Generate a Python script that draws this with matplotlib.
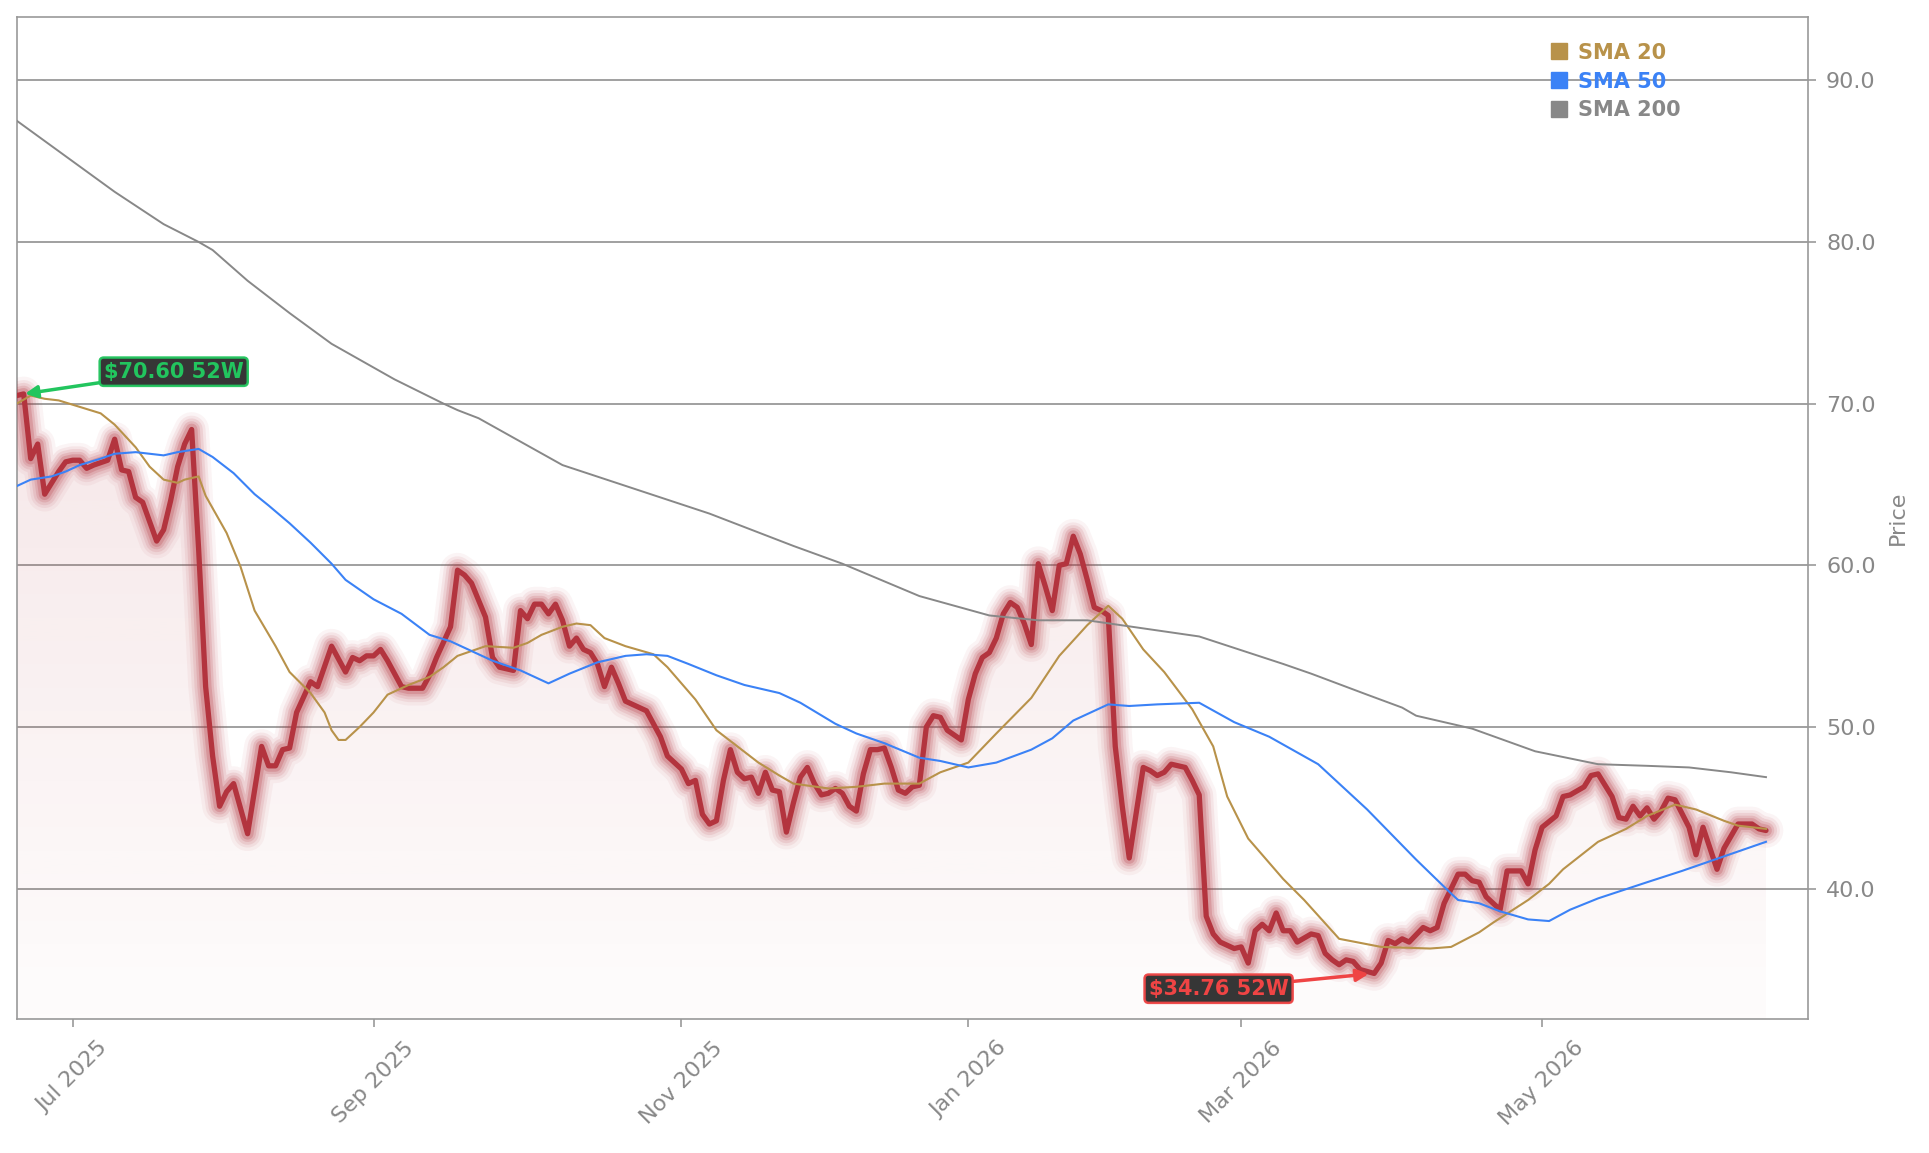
import numpy as np
import pandas as pd
import matplotlib
matplotlib.use('Agg')
import matplotlib.pyplot as plt
from matplotlib.lines import Line2D
from matplotlib.patches import Polygon
from matplotlib.colors import to_rgb
from matplotlib.ticker import MultipleLocator, FormatStrFormatter

# trading calendar (x axis is the trading-day index)
start_date = '2025-06-18'
end_date = '2026-06-17'
holidays = ['2025-06-19', '2025-07-04', '2025-09-01', '2025-11-27', '2025-12-25',
            '2026-01-01', '2026-01-19', '2026-02-16', '2026-04-03', '2026-05-25']
tick_months = [(2025, 7), (2025, 9), (2025, 11), (2026, 1), (2026, 3), (2026, 5)]

# close price (trading-day index, value)
price_day = [0, 1, 2, 3, 4, 5, 6, 7, 8, 9, 10, 11, 13, 14, 15, 16, 17, 18, 20, 21,
             22, 23, 24, 25, 26, 27, 28, 29, 30, 31, 33, 35, 36, 37, 38, 39, 40, 42, 43, 45,
             47, 48, 49, 50, 51, 52, 53, 55, 56, 58, 59, 60, 62, 63, 64, 65, 67, 68, 69, 71,
             72, 73, 74, 75, 76, 77, 78, 79, 80, 81, 82, 83, 84, 85, 86, 87, 89, 90, 91, 92,
             93, 95, 96, 97, 98, 99, 100, 101, 102, 103, 104, 105, 106, 107, 108, 109, 110, 111, 112, 113,
             114, 115, 116, 117, 118, 119, 120, 121, 122, 123, 124, 125, 126, 127, 128, 129, 130, 131, 132, 133,
             134, 135, 136, 137, 138, 139, 140, 141, 142, 143, 144, 145, 146, 147, 148, 149, 150, 151, 152, 153,
             154, 155, 156, 157, 158, 159, 161, 162, 163, 164, 165, 167, 168, 169, 170, 171, 172, 174, 175, 176,
             177, 178, 179, 180, 181, 182, 183, 185, 186, 187, 188, 189, 190, 191, 192, 194, 195, 196, 197, 198,
             199, 201, 202, 203, 204, 206, 207, 208, 209, 210, 212, 213, 215, 216, 217, 218, 220, 221, 222, 224,
             225, 226, 228, 229, 230, 231, 232, 233, 234, 235, 236, 237, 239, 240, 241, 243, 244, 246, 248, 249,
             250]
price_val = [70.5, 70.6, 66.6, 67.5, 64.4, 65.1, 65.8, 66.4, 66.5, 66.5, 66.0, 66.2, 66.5, 67.8, 65.9, 65.8, 64.2, 63.9, 61.5, 62.2,
             64.0, 66.1, 67.5, 68.4, 61.0, 52.5, 48.2, 45.1, 46.0, 46.5, 43.4, 48.8, 47.6, 47.6, 48.6, 48.7, 50.9, 52.8, 52.5, 55.0,
             53.4, 54.3, 54.1, 54.4, 54.4, 54.8, 54.1, 52.5, 52.4, 52.4, 53.2, 54.3, 56.2, 59.7, 59.4, 58.9, 56.8, 54.3, 53.7, 53.5,
             57.2, 56.7, 57.6, 57.6, 57.0, 57.6, 56.6, 55.0, 55.5, 54.8, 54.6, 53.9, 52.5, 53.7, 52.7, 51.6, 51.2, 51.0, 50.2, 49.4,
             48.2, 47.4, 46.5, 46.7, 44.6, 44.0, 44.2, 46.7, 48.6, 47.2, 46.8, 46.9, 45.9, 47.2, 46.1, 46.0, 43.5, 45.3, 46.9, 47.5,
             46.5, 45.8, 45.9, 46.2, 45.9, 45.1, 44.8, 47.1, 48.6, 48.6, 48.7, 47.5, 46.1, 45.9, 46.3, 46.4, 50.0, 50.7, 50.6, 49.8,
             49.5, 49.2, 51.7, 53.3, 54.3, 54.6, 55.5, 57.0, 57.7, 57.4, 56.4, 55.1, 60.1, 58.7, 57.2, 60.0, 60.1, 61.8, 60.7, 59.1,
             57.4, 57.2, 56.9, 48.8, 45.1, 41.9, 47.5, 47.3, 47.0, 47.2, 47.7, 47.5, 46.7, 45.8, 38.3, 37.2, 36.7, 36.3, 36.4, 35.4,
             37.4, 37.8, 37.4, 38.5, 37.4, 37.4, 36.7, 37.2, 37.1, 36.0, 35.6, 35.3, 35.6, 35.5, 35.0, 34.76, 35.4, 36.8, 36.6, 36.9,
             36.7, 37.6, 37.4, 37.6, 39.1, 40.9, 40.9, 40.5, 40.4, 39.5, 38.7, 41.1, 41.1, 40.3, 42.4, 43.8, 44.5, 45.7, 45.8, 46.3,
             47.0, 47.1, 45.7, 44.4, 44.3, 45.1, 44.5, 45.0, 44.3, 44.8, 45.6, 45.5, 43.8, 42.1, 43.8, 41.2, 42.5, 44.0, 44.0, 43.7,
             43.6]

sma20_day = [0, 2, 4, 6, 9, 12, 14, 17, 19, 21, 23, 24, 26, 27, 30, 32, 34, 37, 39, 42,
             44, 45, 46, 47, 49, 51, 53, 56, 59, 61, 63, 67, 71, 73, 75, 78, 80, 82, 84, 87,
             91, 93, 97, 100, 103, 106, 109, 111, 116, 120, 124, 129, 132, 136, 140, 145, 149, 153, 156, 158,
             161, 164, 168, 171, 173, 176, 178, 181, 184, 189, 195, 202, 205, 209, 211, 216, 219, 221, 226, 230,
             233, 237, 240, 244, 246, 250]
sma20_val = [70.0, 70.5, 70.3, 70.2, 69.8, 69.4, 68.7, 67.3, 66.1, 65.3, 65.1, 65.3, 65.5, 64.3, 62.0, 59.9, 57.2, 55.0, 53.4, 52.1,
             50.9, 49.8, 49.2, 49.2, 50.0, 50.9, 52.0, 52.6, 53.1, 53.7, 54.4, 55.0, 54.9, 55.2, 55.7, 56.2, 56.4, 56.3, 55.5, 55.0,
             54.5, 53.7, 51.7, 49.8, 48.8, 47.8, 47.0, 46.5, 46.2, 46.3, 46.5, 46.5, 47.2, 47.8, 49.6, 51.8, 54.4, 56.3, 57.5, 56.7,
             54.8, 53.4, 51.1, 48.8, 45.7, 43.1, 42.1, 40.6, 39.3, 36.9, 36.4, 36.3, 36.4, 37.3, 37.9, 39.3, 40.3, 41.2, 42.9, 43.7,
             44.5, 45.2, 44.9, 44.2, 43.9, 43.7]

sma50_day = [0, 2, 5, 7, 9, 12, 14, 17, 19, 21, 23, 26, 28, 31, 34, 36, 39, 42, 45, 47,
             51, 55, 59, 62, 66, 68, 72, 76, 79, 83, 87, 90, 93, 96, 100, 104, 109, 112, 117, 120,
             124, 129, 132, 136, 140, 145, 148, 151, 156, 159, 163, 169, 174, 179, 186, 193, 200, 205, 206, 209,
             212, 216, 219, 222, 226, 233, 238, 244, 250]
sma50_val = [64.9, 65.3, 65.5, 65.8, 66.2, 66.6, 66.9, 67.0, 66.9, 66.8, 67.0, 67.2, 66.7, 65.7, 64.4, 63.7, 62.6, 61.4, 60.1, 59.1,
             57.9, 57.0, 55.7, 55.3, 54.5, 54.1, 53.5, 52.7, 53.3, 54.0, 54.4, 54.5, 54.4, 53.9, 53.2, 52.6, 52.1, 51.5, 50.2, 49.6,
             49.0, 48.1, 47.9, 47.5, 47.8, 48.6, 49.3, 50.4, 51.4, 51.3, 51.4, 51.5, 50.3, 49.4, 47.7, 44.9, 41.8, 39.7, 39.3, 39.1,
             38.6, 38.1, 38.0, 38.7, 39.4, 40.4, 41.1, 42.0, 42.9]

sma200_day = [0, 7, 14, 21, 26, 28, 33, 39, 45, 54, 61, 63, 66, 78, 99, 111, 118, 129, 139, 146,
              153, 169, 181, 185, 193, 198, 200, 208, 217, 226, 233, 239, 245, 250]
sma200_val = [87.5, 85.3, 83.1, 81.1, 80.0, 79.5, 77.6, 75.6, 73.7, 71.5, 70.0, 69.6, 69.1, 66.2, 63.2, 61.2, 60.1, 58.1, 56.9, 56.6,
              56.6, 55.6, 53.9, 53.3, 52.0, 51.2, 50.7, 49.9, 48.5, 47.7, 47.6, 47.5, 47.2, 46.9]

series_names = ['SMA 20', 'SMA 50', 'SMA 200']

price_color = '#b3343e'
sma_colors = ['#b8924a', '#3b82f6', '#888888']
grey_text = '#888888'
grey_line = '#999999'

dates = pd.bdate_range(start_date, end_date)
dates = dates[~dates.isin(pd.to_datetime(holidays))]
tick_idx = [int(np.argmax((dates.year == y) & (dates.month == m))) for y, m in tick_months]
tick_lbl = [dates[i].strftime('%b %Y') for i in tick_idx]

fig = plt.figure(figsize=(19.29, 11.53), dpi=100)
ax = fig.add_axes([0.00866, 0.1162, 0.9286, 0.8693])

ybot, ytop = 31.94, 93.93

# gradient area under the price line
verts = [(price_day[0], ybot)] + list(zip(price_day, price_val)) + [(price_day[-1], ybot)]
poly = Polygon(verts, closed=True, facecolor='none', edgecolor='none')
ax.add_patch(poly)
rgba = np.zeros((256, 1, 4))
rgba[..., :3] = to_rgb(price_color)
rgba[..., 3] = np.linspace(0.12, 0.015, 256)[:, None]
im = ax.imshow(rgba, extent=(price_day[0], price_day[-1], ybot, max(price_val)),
               aspect='auto', origin='upper', zorder=1, interpolation='bilinear')
im.set_clip_path(poly)

# glow + price line
for lw, a in [(25, 0.05), (20, 0.08), (16, 0.11), (12, 0.15), (8.5, 0.22)]:
    ax.plot(price_day, price_val, color=price_color, lw=lw, alpha=a,
            solid_joinstyle='round', solid_capstyle='round', zorder=3)
ax.plot(price_day, price_val, color=price_color, lw=3.8,
        solid_joinstyle='round', solid_capstyle='round', zorder=4)

ax.plot(sma20_day, sma20_val, color=sma_colors[0], lw=1.5, zorder=5)
ax.plot(sma50_day, sma50_val, color=sma_colors[1], lw=1.5, zorder=5)
ax.plot(sma200_day, sma200_val, color=sma_colors[2], lw=1.4, zorder=5)

ax.set_xlim(0, 256)
ax.set_ylim(ybot, ytop)

# 52 week high / low labels
i_hi = int(np.argmax(price_val))
i_lo = int(np.argmin(price_val))
ax.annotate(f'${price_val[i_hi]:.2f} 52W', xy=(price_day[i_hi], price_val[i_hi]),
            xytext=(108, 16), textcoords='offset points', ha='center', va='center',
            fontsize=15, fontweight='bold', color='#22c55e', zorder=10,
            bbox=dict(boxstyle='round,pad=0.2', fc='#2b2b2b', ec='#22c55e', lw=1.8, alpha=0.95),
            arrowprops=dict(arrowstyle='-|>', color='#22c55e', lw=2.5, mutation_scale=18,
                            shrinkA=0, shrinkB=1))
ax.annotate(f'${price_val[i_lo]:.2f} 52W', xy=(price_day[i_lo], price_val[i_lo]),
            xytext=(-112, -11), textcoords='offset points', ha='center', va='center',
            fontsize=15, fontweight='bold', color='#ef4444', zorder=10,
            bbox=dict(boxstyle='round,pad=0.2', fc='#2b2b2b', ec='#ef4444', lw=1.8, alpha=0.95),
            arrowprops=dict(arrowstyle='-|>', color='#ef4444', lw=2.5, mutation_scale=18,
                            shrinkA=0, shrinkB=4))

# axes styling
ax.yaxis.set_major_locator(MultipleLocator(10))
ax.yaxis.set_major_formatter(FormatStrFormatter('%.1f'))
ax.yaxis.grid(True, color=grey_line, lw=1.3)
ax.set_axisbelow(True)
ax.yaxis.tick_right()
ax.yaxis.set_label_position('right')
ax.set_ylabel('Price', fontsize=16, color=grey_text, labelpad=9)
ax.tick_params(axis='y', length=6, width=1.2, color=grey_line, labelcolor=grey_text,
               labelsize=16, pad=7)
ax.set_xticks(tick_idx)
ax.set_xticklabels(tick_lbl, rotation=45, ha='center')
ax.tick_params(axis='x', length=5.5, width=1.2, color=grey_line, labelcolor=grey_text,
               labelsize=16, pad=8)
for sp in ax.spines.values():
    sp.set_color(grey_line)
    sp.set_linewidth(1.2)

handles = [Line2D([], [], ls='', marker='s', markersize=12, color=c) for c in sma_colors]
leg = ax.legend(handles, series_names, loc='upper left', bbox_to_anchor=(0.8565, 0.974),
                frameon=False, borderpad=0, borderaxespad=0, handlelength=0.8,
                handletextpad=0.5, labelspacing=0.42,
                prop={'size': 15, 'weight': 'bold'}, labelcolor=sma_colors)

fig.savefig('out.png', dpi=100)
